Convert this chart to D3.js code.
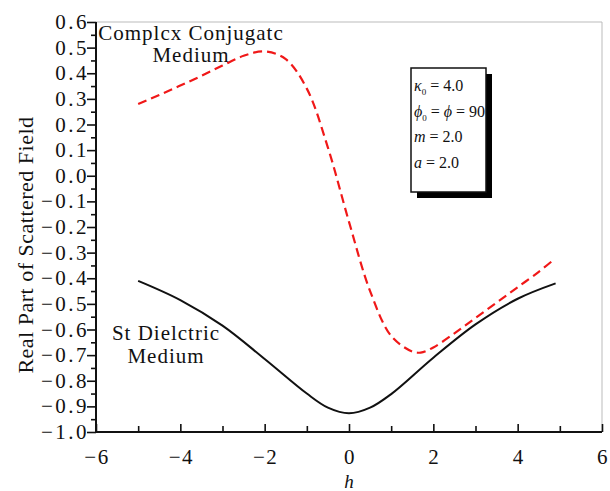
<!DOCTYPE html>
<html>
<head>
<meta charset="utf-8">
<script src="https://cdn.jsdelivr.net/npm/d3@7"></script>
<style>
  body { margin: 0; background: #fff; }
  svg text { font-family: "Liberation Serif", "DejaVu Serif", serif; fill: #111; }
</style>
</head>
<body>
<svg id="chart" width="610" height="491"></svg>
<script>
// values
const redX = [-5, -4.5, -4, -3.5, -3, -2.5, -2, -1.5, -1, -0.5, 0, 0.5, 1, 1.5, 1.7, 2, 2.5, 3, 3.5, 4, 4.5, 4.8];
const redY = [0.28, 0.315, 0.352, 0.39, 0.43, 0.468, 0.485, 0.455, 0.34, 0.11, -0.18, -0.45, -0.625, -0.686, -0.69, -0.67, -0.615, -0.555, -0.495, -0.435, -0.375, -0.335];
const blackX = [-5, -4, -3, -2, -1, -0.5, 0, 0.5, 1, 2, 3, 4, 4.9];
const blackY = [-0.41, -0.485, -0.585, -0.715, -0.85, -0.905, -0.927, -0.905, -0.852, -0.71, -0.58, -0.48, -0.42];
const xTicks = [-6, -4, -2, 0, 2, 4, 6];
const yTicks = d3.range(-10, 7).map(d => d / 10);
// [symbol, subscript, rest]
const params = [["κ", "0", " = 4.0"], ["ϕ", "0", " = |ϕ| = 90"], ["m", "", " = 2.0"], ["a", "", " = 2.0"]];

let svg = d3.select("#chart");
let mLeft = 96, mRight = 602, mTop = 22, mBottom = 432;

let x = d3.scaleLinear().domain([-6, 6]).range([mLeft, mRight]);
let y = d3.scaleLinear().domain([-1.0, 0.6]).range([mBottom, mTop]);

// frame: thin grey top/right
svg.append("line").attr("x1", mLeft).attr("x2", mRight).attr("y1", mTop).attr("y2", mTop)
  .attr("stroke", "#bbb").attr("stroke-width", 1);
svg.append("line").attr("x1", mRight).attr("x2", mRight).attr("y1", mTop).attr("y2", mBottom)
  .attr("stroke", "#bbb").attr("stroke-width", 1);

// x axis, ticks pointing inward
let xAxis = svg.append("g").attr("transform", "translate(0," + mBottom + ")");
xAxis.call(d3.axisBottom(x).tickValues(d3.range(-6, 7, 1)).tickSize(-8).tickFormat(""))
  .call(g => g.select(".domain").remove());
xAxis.selectAll(".tick line").attr("stroke", "#111").attr("stroke-width", 1.6);
xAxis.selectAll(".tick").filter(d => d % 2 !== 0).select("line").attr("y2", -6);
xAxis.selectAll(".xl").data(xTicks).join("text")
  .attr("x", d => x(d) + 1).attr("y", 32)
  .attr("text-anchor", "middle").style("font-size", "21px").style("letter-spacing", "1.5px")
  .text(d => d < 0 ? "\u2212" + Math.abs(d) : d);

// y axis, ticks pointing outward
let yAxis = svg.append("g").attr("transform", "translate(" + mLeft + ",0)");
yAxis.call(d3.axisLeft(y).tickValues(d3.range(-20, 13).map(d => d / 20)).tickSize(9).tickFormat(""))
  .call(g => g.select(".domain").remove());
yAxis.selectAll(".tick line").attr("stroke", "#111").attr("stroke-width", 1.6);
yAxis.selectAll(".tick").filter(d => Math.round(d * 20) % 2 !== 0).select("line").attr("x2", -5);
yAxis.selectAll(".yl").data(yTicks).join("text")
  .attr("x", -7).attr("y", d => y(d) + 7)
  .attr("text-anchor", "end").style("font-size", "21px").style("letter-spacing", "2.5px")
  .text(d => d3.format(".1f")(d).replace("-", "\u2212"));

// axis lines
svg.append("line").attr("x1", mLeft).attr("x2", mLeft).attr("y1", mTop).attr("y2", mBottom + 1)
  .attr("stroke", "#111").attr("stroke-width", 2);
svg.append("line").attr("x1", mLeft - 1).attr("x2", mRight).attr("y1", mBottom).attr("y2", mBottom)
  .attr("stroke", "#111").attr("stroke-width", 2);

// axis titles
svg.append("text").attr("x", 349).attr("y", 488).attr("text-anchor", "middle")
  .style("font-size", "19px").style("font-style", "italic").text("h");
svg.append("text").attr("transform", "translate(33,245) rotate(-90)")
  .attr("text-anchor", "middle").style("font-size", "22px").style("letter-spacing", "0.5px")
  .text("Real Part of Scattered Field");

// curves
let line = d3.line().x(d => x(d[0])).y(d => y(d[1])).curve(d3.curveCatmullRom.alpha(0.5));

svg.append("path").datum(blackX.map((v, i) => [v, blackY[i]]))
  .attr("d", line).attr("fill", "none").attr("stroke", "#111").attr("stroke-width", 2);

svg.append("path").datum(redX.map((v, i) => [v, redY[i]]))
  .attr("d", line).attr("fill", "none").attr("stroke", "#f01818")
  .attr("stroke-width", 2.2).attr("stroke-dasharray", "9,5");

// curve labels
function label(txt, cx, cy) {
  svg.append("text").attr("x", cx).attr("y", cy).attr("text-anchor", "middle")
    .style("font-size", "21px").style("letter-spacing", "1px").text(txt);
}
label("Complcx Conjugatc", 191, 40);
label("Medium", 191, 62);
label("St Dielctric", 166, 340);
label("Medium", 166, 363);

// parameter box with shadow
let bx = 411, by = 68, bw = 75, bh = 124;
svg.append("rect").attr("x", bx + 6).attr("y", by + 6).attr("width", bw).attr("height", bh).attr("fill", "#000");
svg.append("rect").attr("x", bx).attr("y", by).attr("width", bw).attr("height", bh)
  .attr("fill", "#fff").attr("stroke", "#111").attr("stroke-width", 1.5);
svg.selectAll(".param").data(params).join("text")
  .attr("x", bx + 3).attr("y", (d, i) => by + 23 + i * 25.5)
  .style("font-size", "16px")
  .each(function(d) {
    let t = d3.select(this);
    t.append("tspan").style("font-style", "italic").text(d[0]);
    let rest = d[2].split("|");
    if (d[1]) {
      t.append("tspan").attr("dy", 4).style("font-size", "9px").text(d[1]);
      t.append("tspan").attr("dy", -4).text(rest[0]);
    } else {
      t.append("tspan").text(rest[0]);
    }
    if (rest.length > 1) {
      t.append("tspan").style("font-style", "italic").text(rest[1]);
      t.append("tspan").text(rest[2]);
    }
  });
</script>
</body>
</html>
